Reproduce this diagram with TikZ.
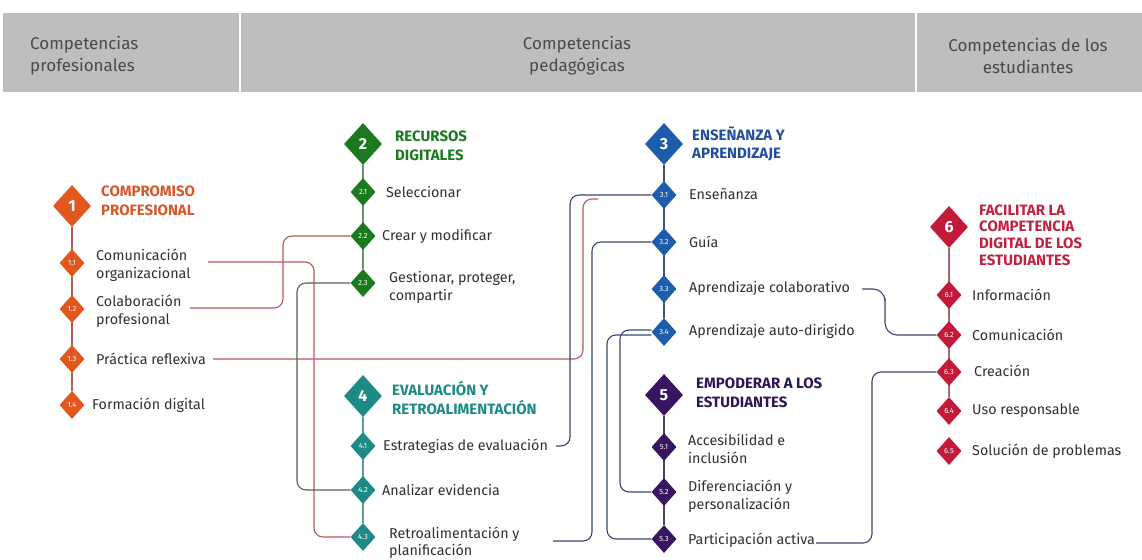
\documentclass[tikz,border=0pt]{standalone}
\usepackage{fontspec}
\setmainfont{Fira Sans}
\usetikzlibrary{shapes.geometric,backgrounds}
\definecolor{hdr}{HTML}{C0BDBD}
\definecolor{hdtext}{HTML}{4A4A4A}
\definecolor{labtext}{HTML}{303030}
\definecolor{cA}{HTML}{E2571E}
\definecolor{tA}{HTML}{D4582C}
\definecolor{sA}{HTML}{B8604F}
\definecolor{cB}{HTML}{1B7A20}
\definecolor{sB}{HTML}{6E8C6E}
\definecolor{cC}{HTML}{1E5DAB}
\definecolor{tC}{HTML}{1F4F9E}
\definecolor{sC}{HTML}{40507E}
\definecolor{cD}{HTML}{1E8A86}
\definecolor{sD}{HTML}{5C9C98}
\definecolor{cE}{HTML}{38155F}
\definecolor{tE}{HTML}{2E1656}
\definecolor{sE}{HTML}{4E406C}
\definecolor{cF}{HTML}{C41A3A}
\definecolor{tF}{HTML}{C0223F}
\definecolor{sF}{HTML}{A86A72}
\definecolor{rline}{HTML}{B8585E}
\definecolor{gline}{HTML}{4F6655}
\definecolor{nline}{HTML}{3C4470}
\begin{document}
\begin{tikzpicture}[x=1pt,y=-1pt,
  bigd/.style={diamond, minimum width=38pt, minimum height=42pt, inner sep=0pt, text=white, font=\bfseries\fontsize{16}{16}\selectfont},
  smalld/.style={diamond, minimum width=25pt, minimum height=28pt, inner sep=0pt, text=white, font=\fontsize{7.5}{7.5}\selectfont},
  ttl/.style={anchor=west, align=left, inner sep=0pt, font=\bfseries\fontsize{15}{18.5}\selectfont},
  lab/.style={anchor=west, align=left, inner sep=0pt, text=labtext, font=\fontsize{14.3}{18}\selectfont},
  hd/.style={inner sep=0pt, text=hdtext, font=\fontsize{17}{22}\selectfont},
  spine/.style={line width=1.8pt},
  conn/.style={line width=1.1pt, rounded corners=9pt}]
\useasboundingbox (0,0) rectangle (1142,559);
% header
\fill[hdr] (3,13) rectangle (1142,92);
\draw[white, line width=2pt] (240,13) -- (240,92);
\draw[white, line width=2pt] (916,13) -- (916,92);
\node[hd, anchor=west, align=left] (h1) at (30,56) {Competencias\\profesionales};
\node[hd, align=center] (h2) at (577,56) {Competencias\\pedagógicas};
\node[hd, align=center] (h3) at (1028,56) {Competencias de los\\estudiantes};
% group 1
\node[bigd, fill=cA] (d1) at (72,206) {1};
\node[ttl, text=tA] (t1) at (101,201) {COMPROMISO\\PROFESIONAL};
\node[smalld, fill=cA] (d11) at (72,263) {1.1};
\node[lab] (l11) at (96,265) {Comunicación\\organizacional};
\node[smalld, fill=cA] (d12) at (72,309) {1.2};
\node[lab] (l12) at (96,311) {Colaboración\\profesional};
\node[smalld, fill=cA] (d13) at (72,359) {1.3};
\node[lab] (l13) at (96,359) {Práctica reflexiva};
\node[smalld, fill=cA] (d14) at (72,405) {1.4};
\node[lab] (l14) at (92,405) {Formación digital};
% group 2
\node[bigd, fill=cB] (d2) at (363,144) {2};
\node[ttl, text=cB] (t2) at (395,146) {RECURSOS\\DIGITALES};
\node[smalld, fill=cB] (d21) at (363,192) {2.1};
\node[lab] (l21) at (386,192) {Seleccionar};
\node[smalld, fill=cB] (d22) at (363,236) {2.2};
\node[lab] (l22) at (382,236) {Crear y modificar};
\node[smalld, fill=cB] (d23) at (363,283) {2.3};
\node[lab] (l23) at (389,287) {Gestionar, proteger,\\compartir};
% group 4
\node[bigd, fill=cD] (d4) at (363,396) {4};
\node[ttl, text=cD] (t4) at (392,398) {EVALUACIÓN Y\\RETROALIMENTACIÓN};
\node[smalld, fill=cD] (d41) at (363,446) {4.1};
\node[lab] (l41) at (383,446) {Estrategias de evaluación};
\node[smalld, fill=cD] (d42) at (363,490) {4.2};
\node[lab] (l42) at (382,490) {Analizar evidencia};
\node[smalld, fill=cD] (d43) at (363,537) {4.3};
\node[lab, font=\fontsize{14.3}{16.5}\selectfont] (l43) at (389,543) {Retroalimentación y\\planificación};
% group 3
\node[bigd, fill=cC] (d3) at (664,144) {3};
\node[ttl, text=tC] (t3) at (692,144) {ENSEÑANZA Y\\APRENDIZAJE};
\node[smalld, fill=cC] (d31) at (664,195) {3.1};
\node[lab] (l31) at (689,194) {Enseñanza};
\node[smalld, fill=cC] (d32) at (664,242) {3.2};
\node[lab] (l32) at (689,242) {Guía};
\node[smalld, fill=cC] (d33) at (664,289) {3.3};
\node[lab] (l33) at (689,288) {Aprendizaje colaborativo};
\node[smalld, fill=cC] (d34) at (664,332) {3.4};
\node[lab] (l34) at (689,331) {Aprendizaje auto-dirigido};
% group 5
\node[bigd, fill=cE] (d5) at (664,395) {5};
\node[ttl, text=tE] (t5) at (696,393) {EMPODERAR A LOS\\ESTUDIANTES};
\node[smalld, fill=cE] (d51) at (664,447) {5.1};
\node[lab] (l51) at (688,449) {Accesibilidad e\\inclusión};
\node[smalld, fill=cE] (d52) at (664,492) {5.2};
\node[lab] (l52) at (688,496) {Diferenciación y\\personalización};
\node[smalld, fill=cE] (d53) at (664,539) {5.3};
\node[lab] (l53) at (688,540) {Participación activa};
% group 6
\node[bigd, fill=cF] (d6) at (949,227) {6};
\node[ttl, text=tF, font=\bfseries\fontsize{15}{16.7}\selectfont] (t6) at (979,235) {FACILITAR LA\\COMPETENCIA\\DIGITAL DE LOS\\ESTUDIANTES};
\node[smalld, fill=cF] (d61) at (949,295) {6.1};
\node[lab] (l61) at (972,295) {Información};
\node[smalld, fill=cF] (d62) at (949,335) {6.2};
\node[lab] (l62) at (972,335) {Comunicación};
\node[smalld, fill=cF] (d63) at (949,372) {6.3};
\node[lab] (l63) at (974,371) {Creación};
\node[smalld, fill=cF] (d64) at (949,411) {6.4};
\node[lab] (l64) at (972,411) {Uso responsable};
\node[smalld, fill=cF] (d65) at (949,451) {6.5};
\node[lab] (l65) at (972,451) {Solución de problemas};
% connector end points
\coordinate (c11) at (208,262);
\coordinate (c12) at (190,308);
\coordinate (c13) at (213,359);
\coordinate (c3end) at (598,199);
\coordinate (c41) at (556,446);
\coordinate (c43) at (553,541);
\coordinate (c33) at (862,289);
\coordinate (c53) at (816,543);
\begin{pgfonlayer}{background}
\draw[spine, sA] (d1) -- (d14);
\draw[spine, sB] (d2) -- (d23);
\draw[spine, sD] (d4) -- (d43);
\draw[spine, sC] (d3) -- (d34);
\draw[spine, sE] (d5) -- (d53);
\draw[spine, sF] (d6) -- (d64);
\draw[conn, rline] (c11) -| (314,400) |- (d43.west);
\draw[conn, rline] (c12) -| (283,270) |- (d22.west);
\draw[conn, rline] (c13) -| (583,280) |- (c3end);
\draw[conn, gline] (d23.west) -| (297,400) |- (d42.west);
\draw[conn, nline] (c41) -| (570,300) |- (d31.west);
\draw[conn, nline] (c43) -| (592,400) |- (d32.west);
\draw[conn, nline] ([yshift=2pt]d34.west) -| (620,400) |- (d52.west);
\draw[conn, nline] ([yshift=-3pt]d34.west) -| (607,420) |- (d53.west);
\draw[conn, nline, rounded corners=12pt] (c33) -| (885,310) |- (d62.west);
\draw[conn, nline] (c53) -| (872,450) |- (d63.west);
\end{pgfonlayer}
\end{tikzpicture}
\end{document}
